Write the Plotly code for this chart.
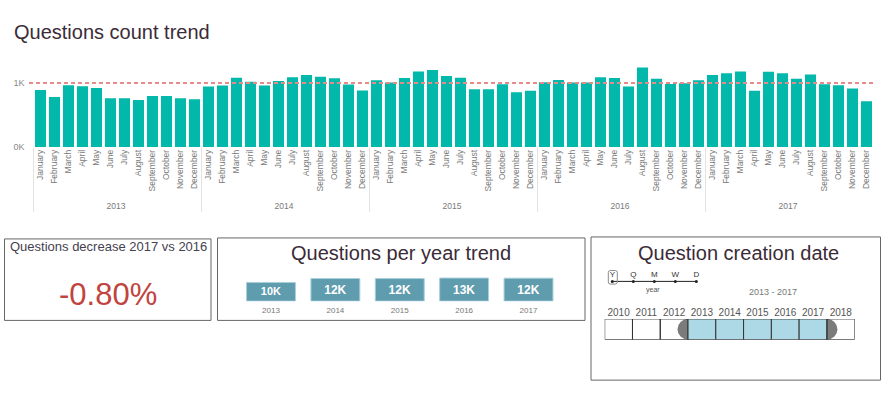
import plotly.graph_objects as go

W, H = 887, 395

# ---------------- data ----------------
months = ["January", "February", "March", "April", "May", "June", "July",
          "August", "September", "October", "November", "December"]
years = ["2013", "2014", "2015", "2016", "2017"]
q2013 = [890, 780, 965, 950, 920, 760, 760, 735, 795, 795, 760, 745]
q2014 = [944, 959, 1082, 1020, 959, 1031, 1087, 1123, 1097, 1072, 974, 882]
q2015 = [1041, 1005, 1077, 1179, 1200, 1108, 1082, 903, 903, 979, 856, 877]
q2016 = [1010, 1046, 1005, 1008, 1087, 1077, 944, 1241, 1067, 985, 995, 1041]
q2017 = [1123, 1149, 1179, 877, 1174, 1149, 1067, 1133, 979, 964, 913, 715]
reference_line = 1000
y_tick_vals = [0, 1000]
y_tick_text = ["0K", "1K"]
kpi_title = "Questions decrease 2017 vs 2016"
kpi_value = "-0.80%"
timeline_years = [2010, 2011, 2012, 2013, 2014, 2015, 2016, 2017, 2018]
sel_start, sel_end = 2013, 2017
granularity = ["Y", "Q", "M", "W", "D"]

series = [q2013, q2014, q2015, q2016, q2017]
x_year = [y for y, s in zip(years, series) for _ in s]
x_month = [m for s in series for m in months[:len(s)]]
y_vals = [v for s in series for v in s]
year_totals = [sum(s) for s in series]

def px(x):
    return x / W

def py(y):
    return 1 - y / H

FONT = "Liberation Sans, Arial, sans-serif"
TITLE_COL = "#3b2b38"

fig = go.Figure()

# ---------------- main column chart ----------------
fig.add_trace(go.Bar(
    x=[x_year, x_month], y=y_vals, marker_color="#01B8AA",
    marker_line_width=0, xaxis="x", yaxis="y", showlegend=False))

# ---------------- yearly boxes ----------------
y2_min, y2_max = -1400, 19400
fig.add_trace(go.Bar(
    x=years, y=[t - y2_min for t in year_totals], base=y2_min,
    text=[f"<b>{round(t / 1000)}K</b>" for t in year_totals],
    textposition="inside", insidetextanchor="middle",
    textfont=dict(color="white", size=12, family=FONT),
    marker=dict(color="#5f9cae", line=dict(color="#a9d0dc", width=1)),
    xaxis="x2", yaxis="y2", showlegend=False, width=0.76))

# ---------------- timeline slicer ----------------
fig.add_trace(go.Bar(
    x=timeline_years, y=[1] * len(timeline_years), base=0, width=1,
    marker=dict(color=["#add8e6" if sel_start <= y <= sel_end else "rgba(255,255,255,0)"
                       for y in timeline_years],
                line=dict(color="#333333", width=1)),
    xaxis="x3", yaxis="y3", showlegend=False))

fig.add_trace(go.Scatter(
    x=list(range(len(granularity))), y=[0] * len(granularity),
    mode="lines+markers+text", text=granularity, textposition="top center",
    textfont=dict(size=8, color="#333", family=FONT),
    line=dict(color="#222", width=1), marker=dict(size=3, color="#222"),
    xaxis="x4", yaxis="y4", showlegend=False, cliponaxis=False))

shapes = []
# reference dashed line
shapes.append(dict(type="line", xref="paper", yref="y", x0=px(29), x1=px(876),
                   y0=reference_line, y1=reference_line,
                   line=dict(color="#e68a8a", width=2, dash="4px,3px"), layer="above"))
# panel borders
for (x0, y0, x1, y1) in [(4.5, 242, 211, 324.5), (217.5, 241, 585, 324.5), (591, 240, 880.5, 385)]:
    shapes.append(dict(type="rect", xref="paper", yref="paper",
                       x0=px(x0), x1=px(x1), y0=py(y1), y1=py(y0),
                       line=dict(color="#666666", width=1)))
# slider handles (half discs outside selection)
r = 0.38
for edge in (sel_start - 0.5, sel_end + 0.5):
    shapes.append(dict(type="circle", xref="x3", yref="y3",
                       x0=edge - r, x1=edge + r, y0=0, y1=1,
                       fillcolor="#7b7b7b", line=dict(width=0), layer="below"))
# rounded box around Y
bx0, bx1, by0, by1, rr = px(608.3), px(617.3), py(287.7), py(274), 2
rx, ry = rr / W, rr / H
path = (f"M {bx0+rx},{by0} L {bx1-rx},{by0} Q {bx1},{by0} {bx1},{by0+ry} "
        f"L {bx1},{by1-ry} Q {bx1},{by1} {bx1-rx},{by1} L {bx0+rx},{by1} "
        f"Q {bx0},{by1} {bx0},{by1-ry} L {bx0},{by0+ry} Q {bx0},{by0} {bx0+rx},{by0} Z")
shapes.append(dict(type="path", xref="paper", yref="paper", path=path,
                   line=dict(color="#8a8a8a", width=1)))

annotations = [
    dict(text="Questions count trend", x=px(12), y=py(32), xanchor="left", yanchor="middle",
         font=dict(size=20, color=TITLE_COL, family=FONT)),
    dict(text=kpi_title, x=px(108), y=py(250), xanchor="center", yanchor="middle",
         font=dict(size=13, color="#444150", family=FONT)),
    dict(text=kpi_value, x=px(108), y=py(298), xanchor="center", yanchor="middle",
         font=dict(size=31, color="#c1443f", family=FONT)),
    dict(text="Questions per year trend", x=px(400.5), y=py(256), xanchor="center", yanchor="middle",
         font=dict(size=20, color=TITLE_COL, family=FONT)),
    dict(text="Question creation date", x=px(738), y=py(256), xanchor="center", yanchor="middle",
         font=dict(size=20, color=TITLE_COL, family=FONT)),
    dict(text="year", x=px(653), y=py(294), xanchor="center", yanchor="middle",
         font=dict(size=7, color="#555", family=FONT)),
    dict(text=f"{sel_start} - {sel_end}", x=px(773), y=py(296), xanchor="center", yanchor="middle",
         font=dict(size=9, color="#777", family=FONT)),
]
for a in annotations:
    a.update(xref="paper", yref="paper", showarrow=False)

fig.update_layout(
    width=W, height=H, margin=dict(l=0, r=0, t=0, b=0),
    paper_bgcolor="white", plot_bgcolor="rgba(0,0,0,0)",
    font=dict(family=FONT), bargap=0.21,
    shapes=shapes, annotations=annotations,
    xaxis=dict(domain=[px(33.5), px(873.5)], anchor="y", type="multicategory",
               tickangle=-90, tickfont=dict(size=8.5, color="#7a7a7a"),
               showdividers=True, dividercolor="#e2e2e2", dividerwidth=1,
               showgrid=False, zeroline=False, showline=False, ticks=""),
    yaxis=dict(domain=[py(149), py(61.25)], anchor="x", range=[0, 1350],
               tickvals=y_tick_vals, ticktext=y_tick_text,
               tickfont=dict(size=9, color="#8a8a8a"), ticklabelstandoff=8,
               showgrid=False, zeroline=False, showline=False),
    xaxis2=dict(domain=[px(238.8), px(560.7)], anchor="y2", type="category",
                tickfont=dict(size=8, color="#777"), showgrid=False, showline=False,
                zeroline=False, ticks="", ticklabelstandoff=3),
    yaxis2=dict(domain=[py(305), py(270)], anchor="x2", range=[y2_min, y2_max],
                visible=False),
    xaxis3=dict(domain=[px(604.7), px(854.7)], anchor="y3", range=[2009.5, 2018.5],
                side="top", tickvals=timeline_years, tickfont=dict(size=10, color="#555"),
                showgrid=False, zeroline=False, showline=False, ticks=""),
    yaxis3=dict(domain=[py(344), py(323)], anchor="x3", range=[0, 1], visible=False),
    xaxis4=dict(domain=[px(612.3), px(696.3)], anchor="y4", range=[0, 4], visible=False),
    yaxis4=dict(domain=[py(290), py(280)], anchor="x4", range=[-1, 1], visible=False),
)

fig.write_html("out.html", config={"displayModeBar": False},
               post_script="document.body.style.margin='0';document.body.style.overflow='hidden';")
